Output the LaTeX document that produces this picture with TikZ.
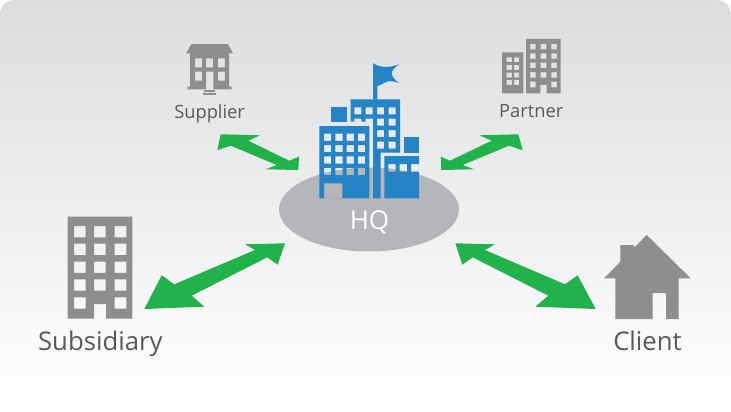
\documentclass[tikz,border=0pt]{standalone}
\usepackage{fontspec}
\setmainfont{Open Sans}
\usetikzlibrary{shapes.geometric}
\definecolor{hqblue}{HTML}{2484C6}
\definecolor{linkgreen}{HTML}{22B24C}
\definecolor{icongray}{HTML}{8C8E90}
\definecolor{padgray}{HTML}{B5B6B9}
\definecolor{textgray}{HTML}{58595B}
\definecolor{bgtop}{HTML}{DCDDDE}
\tikzset{
  hqicon/.style={fill=hqblue, even odd rule},
  grayicon/.style={fill=icongray, even odd rule},
  link/.style={fill=linkgreen},
  smalllabel/.style={anchor=base, text=textgray, font=\fontsize{18.3}{18.3}\selectfont, inner sep=0pt},
  biglabel/.style={anchor=base, text=textgray, font=\fontsize{25.7}{25.7}\selectfont, inner sep=0pt},
}
\begin{document}
\begin{tikzpicture}[x=1pt, y=-1pt]
  \useasboundingbox (0,0) rectangle (731,412);
  \shade[top color=bgtop, bottom color=white, rounded corners=14pt] (0,0) rectangle (731,400);

  % centre
  \node[ellipse, fill=padgray, minimum width=180pt, minimum height=84pt, inner sep=0pt] (hq) at (369,209.5) {};
  \node[anchor=base, text=white, font=\fontsize{26}{26}\selectfont, inner sep=0pt] (hqlabel) at (369.5,229) {HQ};
  % left block
  \fill[hqicon] (319.3,126) rectangle (369.3,198.3)
    foreach \x in {324,335.3,346.6,357.9} {foreach \y in {133.7,145,156.3,167.9} {(\x,\y) rectangle ++(7.2,7.2)}}
    (324,183.3) rectangle (342.3,198.3);
  \fill[hqicon] (331.3,107) rectangle (346.7,122);
  \fill[hqicon] (403.7,137.3) rectangle (419,152.7);
  % tower
  \fill[hqicon] (350.7,99.3) -- (400,99.3) -- (400,152.7) -- (380.7,152.7) -- (380.7,198.3) -- (373,198.3)
    -- (373,118.5) -- (365.7,118.5) -- (365.7,121.7) -- (361.3,121.7) -- (361.3,118.5) -- (354.3,118.5) -- (354.3,121.7) -- (350.7,121.7) -- cycle
    foreach \x in {354.3,365.7,377,388.7} {(\x,107.3) rectangle ++(7,7)}
    foreach \x in {377,388.7} {foreach \y in {118.7,130,141.5} {(\x,\y) rectangle ++(7,7)}};
  % right block
  \fill[hqicon] (384.3,156) -- (419,156) -- (419,164) -- (411,164) -- (411,171.7) -- (419,171.7) -- (419,198.3) -- (384.3,198.3) -- cycle
    (388.3,164) rectangle ++(7.4,7.7)
    (399.7,164) rectangle ++(7.4,7.7);
  % flag
  \fill[hqicon] (373,63.2) -- (377.3,65.5) .. controls (384,68) and (391,67) .. (399.3,64.3)
    .. controls (395,67) and (392,70) .. (391.7,73.3) .. controls (392,77) and (395,80) .. (399.3,83.3)
    .. controls (392,80) and (387,81) .. (384,83) .. controls (382,84.5) and (379,85.5) .. (377.3,86)
    -- (377.3,99.3) -- (373,99.3) -- cycle;

  % supplier
  \fill[grayicon] (186,53.3) -- (191.3,44.2) -- (228,44.2) -- (233,53.3) -- (229,53.3) -- (229,86.7) -- (231.7,86.7) -- (231.7,89.3)
    -- (213.3,89.3) -- (213.3,71.7) -- (206,71.7) -- (206,89.3) -- (187.3,89.3) -- (187.3,86.7) -- (190,86.7) -- (190,53.3) -- cycle
    foreach \x in {195,206,217.8} {(\x,58.3) rectangle ++(7.1,9)}
    foreach \x in {195,217.8} {(\x,71.7) rectangle ++(7.1,9)};
  \fill[grayicon] (204.3,90) rectangle (215,92);
  \fill[grayicon] (203.3,92.7) rectangle (216,94.7);
  \node[smalllabel] (supplier) at (209.6,118.3) {Supplier};

  % partner
  \fill[grayicon] (502,52.3) rectangle (523.3,93.3)
    foreach \x in {506.7,514} {foreach \y in {57.3,65,72.7,80} {(\x,\y) rectangle ++(5.2,4.8)}};
  \fill[grayicon] (526,39) -- (560.7,39) -- (560.7,93.3) -- (546.5,93.3) -- (546.5,85) -- (540.3,85) -- (540.3,93.3) -- (526,93.3) -- cycle
    foreach \x in {530,540.7,551.3} {foreach \y in {44,53.3,62.7,72.2} {(\x,\y) rectangle ++(5.6,5.5)}}
    (530,81.7) rectangle ++(5.6,5.6)
    (551.3,81.7) rectangle ++(5.6,5.6);
  \node[smalllabel] (partner) at (531.2,117.8) {Partner};

  % subsidiary
  \fill[grayicon] (67.7,216.7) -- (132.3,216.7) -- (132.3,318.7) -- (106,318.7) -- (106,304) -- (94,304) -- (94,318.7) -- (67.7,318.7) -- cycle
    foreach \x in {74,94,114.7} {foreach \y in {226,243.7,261.5,279.3} {(\x,\y) rectangle ++(11.7,11.3)}}
    (74,297.3) rectangle ++(11.7,11.3)
    (114.7,297.3) rectangle ++(11.7,11.3);
  \node[biglabel] (subsidiary) at (100.3,350) {Subsidiary};

  % client
  \fill[grayicon] (646.7,235) -- (690.7,278.3) -- (678.7,278.3) -- (678.7,319) -- (666,319) -- (666,293) -- (652.7,293) -- (652.7,319)
    -- (615.3,319) -- (615.3,278.3) -- (604,278.3) -- (620.3,261.8) -- (620.3,245) -- (634,245) -- (634,247.8) -- cycle;
  \node[biglabel] (client) at (647.5,350) {Client};

  % connectors
  \coordinate (supend) at (220.7,134.3);
  \coordinate (suphq) at (298.3,170);
  \coordinate (parend) at (518.3,134.3);
  \coordinate (parhq) at (441.3,170);
  \coordinate (subend) at (144.3,309);
  \coordinate (subhq) at (285,243.3);
  \coordinate (cliend) at (595.7,309);
  \coordinate (clihq) at (455.3,243.3);
  \fill[link] (supend) -- (260,135.3) -- (248.3,140.7) -- (289.3,160.7) -- (299,156.7) -- (suphq) -- (266,169.3) -- (276.7,165) -- (230.7,145.7) -- (217.3,150.3) -- cycle;
  \fill[link] (parend) -- (479.3,135.3) -- (491.7,140.7) -- (450,160.7) -- (440.7,156.7) -- (parhq) -- (474,169.3) -- (462.7,165) -- (509,145.7) -- (522.7,150.3) -- cycle;
  \fill[link] (subend) -- (161.7,275.3) -- (174.3,284.3) -- (255,250) -- (245,244.3) -- (subhq) -- (277.7,264.7) -- (267.3,257.3) -- (191.7,295.7) -- (204.3,306.7) -- cycle;
  \fill[link] (cliend) -- (577.7,275.3) -- (565,284.3) -- (485,250) -- (495,244.3) -- (clihq) -- (462.3,264.7) -- (472.7,257.3) -- (548.3,295.7) -- (535.3,306.7) -- cycle;
\end{tikzpicture}
\end{document}
